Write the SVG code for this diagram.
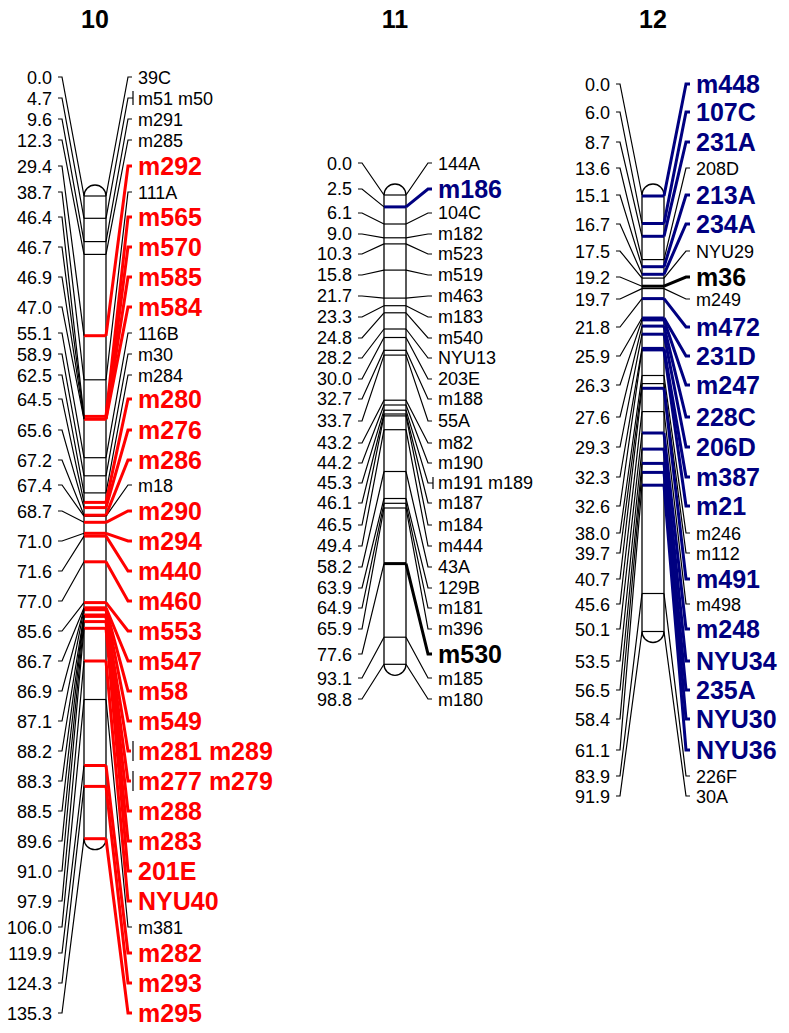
<svg xmlns="http://www.w3.org/2000/svg" width="789" height="1033" viewBox="0 0 789 1033">
<style>
text{font-family:"Liberation Sans",Arial,sans-serif;font-size:18px;fill:#000}
.e{text-anchor:end}
.h{font-size:25px;font-weight:bold;text-anchor:middle}
.b{font-size:25px;font-weight:bold}
.r{fill:#f00}
.n{fill:#000080}
.bar{fill:#fff;stroke:#000;stroke-width:1.3}
.bk{stroke:#000;stroke-width:1.2}
.br{stroke:#f00;stroke-width:3}
.bn{stroke:#000080;stroke-width:3}
.bb{stroke:#000;stroke-width:3}
.k{fill:none;stroke:#000;stroke-width:1.2}
.kr{fill:none;stroke:#f00;stroke-width:3}
.kn{fill:none;stroke:#000080;stroke-width:3}
.kk{fill:none;stroke:#000;stroke-width:3}
</style>
<rect width="789" height="1033" fill="#fff"/>
<g id="titles">
<text class="h" x="95" y="28">10</text>
<text class="h" x="395" y="28">11</text>
<text class="h" x="653" y="28">12</text>
</g>
<g id="chr10">
<path class="bar" d="M84,196 V838.7 A11,11 0 0 0 106,838.7 V196 A11,11 0 0 0 84,196 Z"/>
<g class="bk">
<line x1="84" x2="106" y1="196" y2="196"/><line x1="84" x2="106" y1="218.3" y2="218.3"/><line x1="84" x2="106" y1="241.6" y2="241.6"/><line x1="84" x2="106" y1="254.4" y2="254.4"/><line x1="84" x2="106" y1="379.8" y2="379.8"/><line x1="84" x2="106" y1="457.7" y2="457.7"/><line x1="84" x2="106" y1="475.8" y2="475.8"/><line x1="84" x2="106" y1="492.9" y2="492.9"/><line x1="84" x2="106" y1="516.2" y2="516.2"/><line x1="84" x2="106" y1="699.5" y2="699.5"/>
</g>
<g class="br">
<line x1="84" x2="106" y1="335.7" y2="335.7"/><line x1="84" x2="106" y1="416.4" y2="416.4"/><line x1="84" x2="106" y1="419.3" y2="419.3"/><line x1="84" x2="106" y1="502.4" y2="502.4"/><line x1="84" x2="106" y1="507.6" y2="507.6"/><line x1="84" x2="106" y1="515.2" y2="515.2"/><line x1="84" x2="106" y1="522.3" y2="522.3"/><line x1="84" x2="106" y1="533.3" y2="533.3"/><line x1="84" x2="106" y1="536.1" y2="536.1"/><line x1="84" x2="106" y1="561.8" y2="561.8"/><line x1="84" x2="106" y1="602.6" y2="602.6"/><line x1="84" x2="106" y1="607.8" y2="607.8"/><line x1="84" x2="106" y1="609.7" y2="609.7"/><line x1="84" x2="106" y1="615.0" y2="615.0"/><line x1="84" x2="106" y1="616.4" y2="616.4"/><line x1="84" x2="106" y1="621.6" y2="621.6"/><line x1="84" x2="106" y1="628.3" y2="628.3"/><line x1="84" x2="106" y1="661" y2="661"/><line x1="84" x2="106" y1="765.5" y2="765.5"/><line x1="84" x2="106" y1="786.4" y2="786.4"/><line x1="84" x2="106" y1="838.7" y2="838.7"/>
</g>
</g>
<g id="chr10-labels">
<text class="e" x="52" y="83.5">0.0</text><text class="e" x="52" y="104.5">4.7</text><text class="e" x="52" y="125.5">9.6</text><text class="e" x="52" y="146.5">12.3</text><text class="e" x="52" y="172.5">29.4</text><text class="e" x="52" y="198.5">38.7</text><text class="e" x="52" y="223.5">46.4</text><text class="e" x="52" y="253.5">46.7</text><text class="e" x="52" y="283.5">46.9</text><text class="e" x="52" y="313.5">47.0</text><text class="e" x="52" y="339.5">55.1</text><text class="e" x="52" y="360.5">58.9</text><text class="e" x="52" y="381.5">62.5</text><text class="e" x="52" y="405.5">64.5</text><text class="e" x="52" y="436.5">65.6</text><text class="e" x="52" y="466.5">67.2</text><text class="e" x="52" y="491.5">67.4</text><text class="e" x="52" y="517.5">68.7</text><text class="e" x="52" y="547.5">71.0</text><text class="e" x="52" y="577.5">71.6</text><text class="e" x="52" y="607.5">77.0</text><text class="e" x="52" y="637.5">85.6</text><text class="e" x="52" y="667.5">86.7</text><text class="e" x="52" y="697.5">86.9</text><text class="e" x="52" y="727.5">87.1</text><text class="e" x="52" y="757.5">88.2</text><text class="e" x="52" y="787.5">88.3</text><text class="e" x="52" y="817.5">88.5</text><text class="e" x="52" y="847.5">89.6</text><text class="e" x="52" y="877.5">91.0</text><text class="e" x="52" y="907.5">97.9</text><text class="e" x="52" y="933.5">106.0</text><text class="e" x="52" y="959.5">119.9</text><text class="e" x="52" y="989.5">124.3</text><text class="e" x="52" y="1019.5">135.3</text>
<text x="138" y="83.5">39C</text><text x="138" y="104.5">m51 m50</text><text x="138" y="125.5">m291</text><text x="138" y="146.5">m285</text>
<text class="b r" x="138" y="175">m292</text>
<text x="138" y="198.5">111A</text>
<text class="b r" x="138" y="226">m565</text><text class="b r" x="138" y="256">m570</text><text class="b r" x="138" y="286">m585</text><text class="b r" x="138" y="316">m584</text>
<text x="138" y="339.5">116B</text><text x="138" y="360.5">m30</text><text x="138" y="381.5">m284</text>
<text class="b r" x="138" y="408">m280</text><text class="b r" x="138" y="439">m276</text><text class="b r" x="138" y="469">m286</text>
<text x="138" y="491.5">m18</text>
<text class="b r" x="138" y="520">m290</text><text class="b r" x="138" y="550">m294</text><text class="b r" x="138" y="580">m440</text><text class="b r" x="138" y="610">m460</text><text class="b r" x="138" y="640">m553</text><text class="b r" x="138" y="670">m547</text><text class="b r" x="138" y="700">m58</text><text class="b r" x="138" y="730">m549</text><text class="b r" x="138" y="760">m281 m289</text><text class="b r" x="138" y="790">m277 m279</text><text class="b r" x="138" y="820">m288</text><text class="b r" x="138" y="850">m283</text><text class="b r" x="138" y="880">201E</text><text class="b r" x="138" y="910">NYU40</text>
<text x="138" y="933.5">m381</text>
<text class="b r" x="138" y="962">m282</text><text class="b r" x="138" y="992">m293</text><text class="b r" x="138" y="1022">m295</text>
</g>
<g id="chr11">
<path class="bar" d="M384,195 V664.3 A11,11 0 0 0 406,664.3 V195 A11,11 0 0 0 384,195 Z"/>
<g class="bk">
<line x1="384" x2="406" y1="195" y2="195"/><line x1="384" x2="406" y1="224" y2="224"/><line x1="384" x2="406" y1="237.8" y2="237.8"/><line x1="384" x2="406" y1="243.9" y2="243.9"/><line x1="384" x2="406" y1="270.1" y2="270.1"/><line x1="384" x2="406" y1="298.1" y2="298.1"/><line x1="384" x2="406" y1="305.7" y2="305.7"/><line x1="384" x2="406" y1="312.8" y2="312.8"/><line x1="384" x2="406" y1="329" y2="329"/><line x1="384" x2="406" y1="337.5" y2="337.5"/><line x1="384" x2="406" y1="350.3" y2="350.3"/><line x1="384" x2="406" y1="355.1" y2="355.1"/><line x1="384" x2="406" y1="400.2" y2="400.2"/><line x1="384" x2="406" y1="405" y2="405"/><line x1="384" x2="406" y1="410.2" y2="410.2"/><line x1="384" x2="406" y1="414" y2="414"/><line x1="384" x2="406" y1="415.9" y2="415.9"/><line x1="384" x2="406" y1="429.7" y2="429.7"/><line x1="384" x2="406" y1="471.5" y2="471.5"/><line x1="384" x2="406" y1="498.5" y2="498.5"/><line x1="384" x2="406" y1="503.3" y2="503.3"/><line x1="384" x2="406" y1="508" y2="508"/><line x1="384" x2="406" y1="637.2" y2="637.2"/><line x1="384" x2="406" y1="664.3" y2="664.3"/>
</g>
<line class="bn" x1="384" x2="406" y1="206.9" y2="206.9"/>
<line class="bb" x1="384" x2="406" y1="563.6" y2="563.6"/>
</g>
<g id="chr11-labels">
<text class="e" x="352" y="169.5">0.0</text><text class="e" x="352" y="194.5">2.5</text><text class="e" x="352" y="219">6.1</text><text class="e" x="352" y="240">9.0</text><text class="e" x="352" y="260">10.3</text><text class="e" x="352" y="281">15.8</text><text class="e" x="352" y="302">21.7</text><text class="e" x="352" y="323">23.3</text><text class="e" x="352" y="344">24.8</text><text class="e" x="352" y="364">28.2</text><text class="e" x="352" y="385">30.0</text><text class="e" x="352" y="405">32.7</text><text class="e" x="352" y="427">33.7</text><text class="e" x="352" y="449">43.2</text><text class="e" x="352" y="469">44.2</text><text class="e" x="352" y="489">45.3</text><text class="e" x="352" y="509">46.1</text><text class="e" x="352" y="531">46.5</text><text class="e" x="352" y="552">49.4</text><text class="e" x="352" y="573">58.2</text><text class="e" x="352" y="594">63.9</text><text class="e" x="352" y="614">64.9</text><text class="e" x="352" y="635">65.9</text><text class="e" x="352" y="660.5">77.6</text><text class="e" x="352" y="684.5">93.1</text><text class="e" x="352" y="705.5">98.8</text>
<text x="438" y="169.5">144A</text>
<text class="b n" x="438" y="197.5">m186</text>
<text x="438" y="219">104C</text><text x="438" y="240">m182</text><text x="438" y="260">m523</text><text x="438" y="281">m519</text><text x="438" y="302">m463</text><text x="438" y="323">m183</text><text x="438" y="344">m540</text><text x="438" y="364">NYU13</text><text x="438" y="385">203E</text><text x="438" y="405">m188</text><text x="438" y="427">55A</text><text x="438" y="449">m82</text><text x="438" y="469">m190</text><text x="438" y="489">m191 m189</text><text x="438" y="509">m187</text><text x="438" y="531">m184</text><text x="438" y="552">m444</text><text x="438" y="573">43A</text><text x="438" y="594">129B</text><text x="438" y="614">m181</text><text x="438" y="635">m396</text>
<text class="b" x="438" y="663">m530</text>
<text x="438" y="684.5">m185</text><text x="438" y="705.5">m180</text>
</g>
<g id="chr12">
<path class="bar" d="M642,195 V631.5 A11,11 0 0 0 664,631.5 V195 A11,11 0 0 0 642,195 Z"/>
<g class="bk">
<line x1="642" x2="664" y1="259.6" y2="259.6"/><line x1="642" x2="664" y1="278.1" y2="278.1"/><line x1="642" x2="664" y1="288.6" y2="288.6"/><line x1="642" x2="664" y1="375.5" y2="375.5"/><line x1="642" x2="664" y1="383.6" y2="383.6"/><line x1="642" x2="664" y1="411.6" y2="411.6"/><line x1="642" x2="664" y1="593.5" y2="593.5"/><line x1="642" x2="664" y1="631.5" y2="631.5"/>
</g>
<g class="bn">
<line x1="642" x2="664" y1="196" y2="196"/><line x1="642" x2="664" y1="223.5" y2="223.5"/><line x1="642" x2="664" y1="236.3" y2="236.3"/><line x1="642" x2="664" y1="266.7" y2="266.7"/><line x1="642" x2="664" y1="274.3" y2="274.3"/><line x1="642" x2="664" y1="298.6" y2="298.6"/><line x1="642" x2="664" y1="318" y2="318"/><line x1="642" x2="664" y1="319.9" y2="319.9"/><line x1="642" x2="664" y1="326.1" y2="326.1"/><line x1="642" x2="664" y1="334.2" y2="334.2"/><line x1="642" x2="664" y1="348.4" y2="348.4"/><line x1="642" x2="664" y1="349.9" y2="349.9"/><line x1="642" x2="664" y1="388.3" y2="388.3"/><line x1="642" x2="664" y1="433" y2="433"/><line x1="642" x2="664" y1="449.1" y2="449.1"/><line x1="642" x2="664" y1="463.4" y2="463.4"/><line x1="642" x2="664" y1="472.4" y2="472.4"/><line x1="642" x2="664" y1="485.2" y2="485.2"/>
</g>
<line class="bb" x1="642" x2="664" y1="286.2" y2="286.2"/>
</g>
<g id="chr12-labels">
<text class="e" x="610" y="90.5">0.0</text><text class="e" x="610" y="118.5">6.0</text><text class="e" x="610" y="148.5">8.7</text><text class="e" x="610" y="174.5">13.6</text><text class="e" x="610" y="201.5">15.1</text><text class="e" x="610" y="230.5">16.7</text><text class="e" x="610" y="257.5">17.5</text><text class="e" x="610" y="283.5">19.2</text><text class="e" x="610" y="305.5">19.7</text><text class="e" x="610" y="333.5">21.8</text><text class="e" x="610" y="362.5">25.9</text><text class="e" x="610" y="391.5">26.3</text><text class="e" x="610" y="423.5">27.6</text><text class="e" x="610" y="453.5">29.3</text><text class="e" x="610" y="483.5">32.3</text><text class="e" x="610" y="512.5">32.6</text><text class="e" x="610" y="539.5">38.0</text><text class="e" x="610" y="559.5">39.7</text><text class="e" x="610" y="585.5">40.7</text><text class="e" x="610" y="610.5">45.6</text><text class="e" x="610" y="635.5">50.1</text><text class="e" x="610" y="667.5">53.5</text><text class="e" x="610" y="696.5">56.5</text><text class="e" x="610" y="725.5">58.4</text><text class="e" x="610" y="756.5">61.1</text><text class="e" x="610" y="782.5">83.9</text><text class="e" x="610" y="802.5">91.9</text>
<text class="b n" x="696" y="93">m448</text><text class="b n" x="696" y="121">107C</text><text class="b n" x="696" y="151">231A</text>
<text x="696" y="174.5">208D</text>
<text class="b n" x="696" y="204">213A</text><text class="b n" x="696" y="233">234A</text>
<text x="696" y="257.5">NYU29</text>
<text class="b" x="696" y="286">m36</text>
<text x="696" y="305.5">m249</text>
<text class="b n" x="696" y="336">m472</text><text class="b n" x="696" y="365">231D</text><text class="b n" x="696" y="394">m247</text><text class="b n" x="696" y="426">228C</text><text class="b n" x="696" y="456">206D</text><text class="b n" x="696" y="486">m387</text><text class="b n" x="696" y="515">m21</text>
<text x="696" y="539.5">m246</text><text x="696" y="559.5">m112</text>
<text class="b n" x="696" y="588">m491</text>
<text x="696" y="610.5">m498</text>
<text class="b n" x="696" y="638">m248</text><text class="b n" x="696" y="670">NYU34</text><text class="b n" x="696" y="699">235A</text><text class="b n" x="696" y="728">NYU30</text><text class="b n" x="696" y="759">NYU36</text>
<text x="696" y="782.5">226F</text><text x="696" y="802.5">30A</text>
</g>
<g id="connectors">
<g class="k">
<polyline points="58,77 62,77 84,196"/><polyline points="58,98 62,98 84,218.3"/><polyline points="58,119 62,119 84,241.6"/><polyline points="58,140 62,140 84,254.4"/><polyline points="58,166 62,166 84,335.7"/><polyline points="58,192 62,192 84,379.8"/><polyline points="58,217 62,217 84,416.4"/><polyline points="58,247 62,247 84,417.8"/><polyline points="58,277 62,277 84,418.8"/><polyline points="58,307 62,307 84,419.3"/><polyline points="58,333 62,333 84,457.7"/><polyline points="58,354 62,354 84,475.8"/><polyline points="58,375 62,375 84,492.9"/><polyline points="58,399 62,399 84,502.4"/><polyline points="58,430 62,430 84,507.6"/><polyline points="58,460 62,460 84,515.2"/><polyline points="58,485 62,485 84,516.2"/><polyline points="58,511 62,511 84,522.3"/><polyline points="58,541 62,541 84,533.3"/><polyline points="58,571 62,571 84,536.1"/><polyline points="58,601 62,601 84,561.8"/><polyline points="58,631 62,631 84,602.6"/><polyline points="58,661 62,661 84,607.8"/><polyline points="58,691 62,691 84,608.8"/><polyline points="58,721 62,721 84,609.7"/><polyline points="58,751 62,751 84,615"/><polyline points="58,781 62,781 84,615.4"/><polyline points="58,811 62,811 84,616.4"/><polyline points="58,841 62,841 84,621.6"/><polyline points="58,871 62,871 84,628.3"/><polyline points="58,901 62,901 84,661"/><polyline points="58,927 62,927 84,699.5"/><polyline points="58,953 62,953 84,765.5"/><polyline points="58,983 62,983 84,786.4"/><polyline points="58,1013 62,1013 84,838.7"/>
<polyline points="106,196 128,77 132,77"/><polyline points="106,218.3 128,98 133,98"/><line x1="133" y1="91" x2="133" y2="105"/><polyline points="106,241.6 128,119 132,119"/><polyline points="106,254.4 128,140 132,140"/><polyline points="106,379.8 128,192 132,192"/><polyline points="106,457.7 128,333 132,333"/><polyline points="106,475.8 128,354 132,354"/><polyline points="106,492.9 128,375 132,375"/><polyline points="106,516.2 128,485 132,485"/><polyline points="106,699.5 128,927 132,927"/>
<line x1="133" y1="741" x2="133" y2="761"/><line x1="133" y1="771" x2="133" y2="791"/>
</g>
<g class="kr">
<polyline points="106,335.7 128,166 132,166"/><polyline points="106,416.4 128,217 132,217"/><polyline points="106,417.8 128,247 132,247"/><polyline points="106,418.8 128,277 132,277"/><polyline points="106,419.3 128,307 132,307"/><polyline points="106,502.4 128,399 132,399"/><polyline points="106,507.6 128,430 132,430"/><polyline points="106,515.2 128,460 132,460"/><polyline points="106,522.3 128,511 132,511"/><polyline points="106,533.3 128,541 132,541"/><polyline points="106,536.1 128,571 132,571"/><polyline points="106,561.8 128,601 132,601"/><polyline points="106,602.6 128,631 132,631"/><polyline points="106,607.8 128,661 132,661"/><polyline points="106,608.8 128,691 132,691"/><polyline points="106,609.7 128,721 132,721"/><polyline points="106,615 128,751 131,751"/><polyline points="106,615.4 128,781 131,781"/><polyline points="106,616.4 128,811 132,811"/><polyline points="106,621.6 128,841 132,841"/><polyline points="106,628.3 128,871 132,871"/><polyline points="106,661 128,901 132,901"/><polyline points="106,765.5 128,953 132,953"/><polyline points="106,786.4 128,983 132,983"/><polyline points="106,838.7 128,1013 132,1013"/>
</g>
<g class="k">
<polyline points="358,163 362,163 384,195"/><polyline points="358,189 362,189 384,206.9"/><polyline points="358,213 362,213 384,224"/><polyline points="358,234 362,234 384,237.8"/><polyline points="358,254 362,254 384,243.9"/><polyline points="358,275 362,275 384,270.1"/><polyline points="358,296 362,296 384,298.1"/><polyline points="358,317 362,317 384,305.7"/><polyline points="358,338 362,338 384,312.8"/><polyline points="358,358 362,358 384,329"/><polyline points="358,379 362,379 384,337.5"/><polyline points="358,399 362,399 384,350.3"/><polyline points="358,421 362,421 384,355.1"/><polyline points="358,443 362,443 384,400.2"/><polyline points="358,463 362,463 384,405"/><polyline points="358,483 362,483 384,410.2"/><polyline points="358,503 362,503 384,414"/><polyline points="358,525 362,525 384,415.9"/><polyline points="358,546 362,546 384,429.7"/><polyline points="358,567 362,567 384,471.5"/><polyline points="358,588 362,588 384,498.5"/><polyline points="358,608 362,608 384,503.3"/><polyline points="358,629 362,629 384,508"/><polyline points="358,654 362,654 384,563.6"/><polyline points="358,678 362,678 384,637.2"/><polyline points="358,699 362,699 384,664.3"/>
<polyline points="406,195 428,163 432,163"/><polyline points="406,224 428,213 432,213"/><polyline points="406,237.8 428,234 432,234"/><polyline points="406,243.9 428,254 432,254"/><polyline points="406,270.1 428,275 432,275"/><polyline points="406,298.1 428,296 432,296"/><polyline points="406,305.7 428,317 432,317"/><polyline points="406,312.8 428,338 432,338"/><polyline points="406,329 428,358 432,358"/><polyline points="406,337.5 428,379 432,379"/><polyline points="406,350.3 428,399 432,399"/><polyline points="406,355.1 428,421 432,421"/><polyline points="406,400.2 428,443 432,443"/><polyline points="406,405 428,463 432,463"/><polyline points="406,410.2 428,483 433,483"/><line x1="433" y1="477" x2="433" y2="489"/><polyline points="406,414 428,503 432,503"/><polyline points="406,415.9 428,525 432,525"/><polyline points="406,429.7 428,546 432,546"/><polyline points="406,471.5 428,567 432,567"/><polyline points="406,498.5 428,588 432,588"/><polyline points="406,503.3 428,608 432,608"/><polyline points="406,508 428,629 432,629"/><polyline points="406,637.2 428,678 432,678"/><polyline points="406,664.3 428,699 432,699"/>
</g>
<polyline class="kn" points="406,206.9 428,189 432,189"/>
<polyline class="kk" points="406,563.6 428,654 432,654"/>
<g class="k">
<polyline points="616,84 620,84 642,195"/><polyline points="616,112 620,112 642,223.5"/><polyline points="616,142 620,142 642,236.3"/><polyline points="616,168 620,168 642,259.6"/><polyline points="616,195 620,195 642,266.7"/><polyline points="616,224 620,224 642,274.3"/><polyline points="616,251 620,251 642,278.1"/><polyline points="616,277 620,277 642,286.2"/><polyline points="616,299 620,299 642,288.6"/><polyline points="616,327 620,327 642,298.6"/><polyline points="616,356 620,356 642,318"/><polyline points="616,385 620,385 642,319.9"/><polyline points="616,417 620,417 642,326.1"/><polyline points="616,447 620,447 642,334.2"/><polyline points="616,477 620,477 642,348.4"/><polyline points="616,506 620,506 642,349.9"/><polyline points="616,533 620,533 642,375.5"/><polyline points="616,553 620,553 642,383.6"/><polyline points="616,579 620,579 642,388.3"/><polyline points="616,604 620,604 642,411.6"/><polyline points="616,629 620,629 642,433"/><polyline points="616,661 620,661 642,449.1"/><polyline points="616,690 620,690 642,463.4"/><polyline points="616,719 620,719 642,472.4"/><polyline points="616,750 620,750 642,485.2"/><polyline points="616,776 620,776 642,593.5"/><polyline points="616,796 620,796 642,631.5"/>
<polyline points="664,259.6 686,168 690,168"/><polyline points="664,278.1 686,251 690,251"/><polyline points="664,288.6 686,299 690,299"/><polyline points="664,375.5 686,533 690,533"/><polyline points="664,383.6 686,553 690,553"/><polyline points="664,411.6 686,604 690,604"/><polyline points="664,593.5 686,776 690,776"/><polyline points="664,631.5 686,796 690,796"/>
</g>
<polyline class="kk" points="664,286.2 686,277 690,277"/>
<g class="kn">
<polyline points="664,196 686,84 690,84"/><polyline points="664,223.5 686,112 690,112"/><polyline points="664,236.3 686,142 690,142"/><polyline points="664,266.7 686,195 690,195"/><polyline points="664,274.3 686,224 690,224"/><polyline points="664,298.6 686,327 690,327"/><polyline points="664,318 686,356 690,356"/><polyline points="664,319.9 686,385 690,385"/><polyline points="664,326.1 686,417 690,417"/><polyline points="664,334.2 686,447 690,447"/><polyline points="664,348.4 686,477 690,477"/><polyline points="664,349.9 686,506 690,506"/><polyline points="664,388.3 686,579 690,579"/><polyline points="664,433 686,629 690,629"/><polyline points="664,449.1 686,661 690,661"/><polyline points="664,463.4 686,690 690,690"/><polyline points="664,472.4 686,719 690,719"/><polyline points="664,485.2 686,750 690,750"/>
</g>
</g>
</svg>
